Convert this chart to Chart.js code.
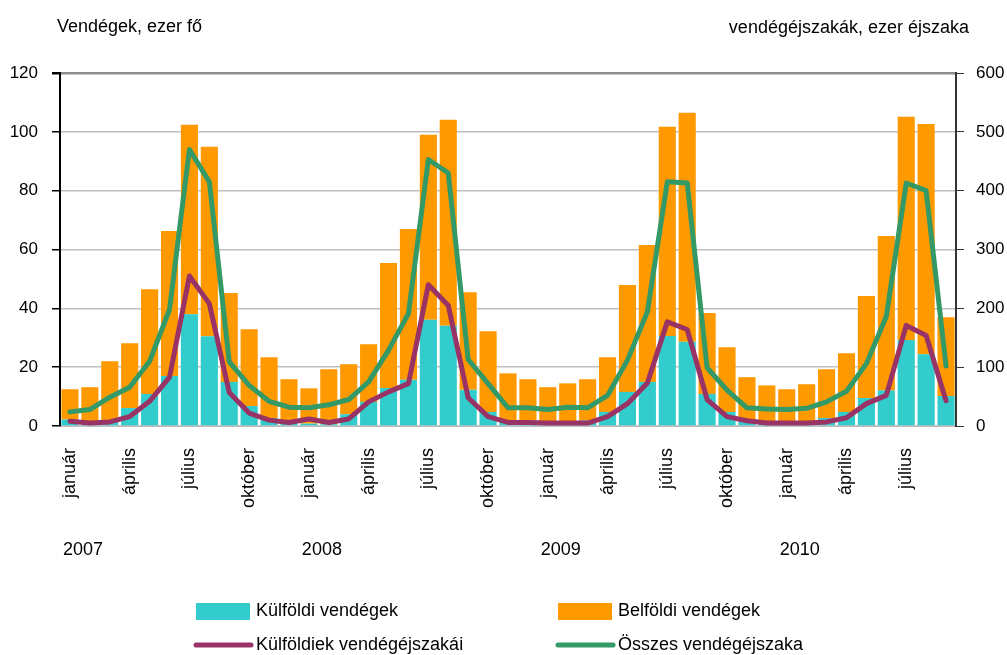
<!DOCTYPE html>
<html>
<head>
<meta charset="utf-8">
<script src="https://cdn.jsdelivr.net/npm/chart.js@4.4.1/dist/chart.umd.min.js"></script>
<style>
  html, body { margin: 0; padding: 0; background: #fff; }
  #chart { display: block; }
</style>
</head>
<body>
<canvas id="chart" width="1007" height="655"></canvas>
<script>
// categories
var years = ["2007", "2008", "2009", "2010"];
var monthNames = ["január", "február", "március", "április", "május", "június",
  "július", "augusztus", "szeptember", "október", "november", "december"];
var shownMonths = ["január", "április", "július", "október"];
var monthCount = 45; // 2007 jan - 2010 szept

// bars, ezer fő (left axis)
var kulfoldiVendegek = [
  2.2, 1.5, 2.0, 6.1, 10.9, 17.0, 38.0, 30.5, 15.0, 6.8, 2.7, 1.5,
  0.8, 0.6, 4.0, 8.2, 12.9, 15.7, 36.1, 34.1, 12.3, 4.8, 1.9, 1.9,
  1.7, 1.7, 1.9, 4.8, 11.6, 15.0, 30.6, 28.6, 10.9, 4.8, 1.7, 1.4,
  0.8, 0.8, 2.7, 4.8, 9.5, 12.1, 29.2, 24.4, 10.2
];
var belfoldiVendegek = [
  10.3, 11.7, 20.0, 22.0, 35.6, 49.3, 64.4, 64.4, 30.2, 26.1, 20.7, 14.4,
  12.0, 18.7, 17.0, 19.6, 42.5, 51.3, 62.9, 70.0, 33.2, 27.4, 16.0, 14.0,
  11.5, 12.8, 14.0, 18.6, 36.3, 46.5, 71.1, 77.9, 27.5, 22.0, 14.9, 12.4,
  11.7, 13.4, 16.6, 19.9, 34.7, 52.5, 75.9, 78.3, 26.8
];

// lines, ezer éjszaka (right axis)
var kulfoldiekEjszakai = [
  8, 5, 7, 16, 42, 83, 255, 208, 57, 22, 10, 6,
  12, 6, 12, 41, 58, 72, 240, 205, 48, 16, 6, 6,
  5, 5, 5, 16, 38, 73, 177, 164, 45, 16, 9, 5,
  5, 5, 7, 14, 38, 52, 171, 154, 43
];
var osszesEjszaka = [
  24, 28, 49, 66, 110, 198, 470, 415, 109, 69, 42, 32,
  31, 36, 45, 75, 129, 191, 453, 430, 113, 72, 31, 31,
  28, 32, 31, 52, 112, 194, 415, 413, 99, 61, 31, 29,
  28, 30, 41, 59, 106, 186, 413, 400, 102
];

var leftTicks = [0, 20, 40, 60, 80, 100, 120];
var rightTicks = [0, 100, 200, 300, 400, 500, 600];

var fontFamily = "'Liberation Sans', Arial, sans-serif";

// build month labels
var labels = [];
for (var i = 0; i < monthCount; i++) {
  labels.push(monthNames[i % 12]);
}

// titles, year row and legend drawn on the canvas
var extraText = {
  id: "extraText",
  afterDraw: function(chart) {
    var ctx = chart.ctx;
    var xs = chart.scales.x;
    ctx.save();
    ctx.fillStyle = "#000";
    ctx.font = "18px " + fontFamily;
    ctx.textBaseline = "alphabetic";
    ctx.textAlign = "left";
    ctx.fillText("Vendégek, ezer fő", 57, 32);
    ctx.textAlign = "right";
    ctx.fillText("vendégéjszakák, ezer éjszaka", 969, 33);

    // years under january
    ctx.textAlign = "center";
    ctx.font = "18px " + fontFamily;
    for (var y = 0; y < years.length; y++) {
      var px = xs.getPixelForValue(y * 12);
      ctx.fillText(years[y], px + 13, 555);
    }

    // legend
    var ds = chart.data.datasets;
    var items = [
      { d: ds[0], x: 196, y: 611, box: true },
      { d: ds[1], x: 558, y: 611, box: true },
      { d: ds[2], x: 196, y: 645, box: false },
      { d: ds[3], x: 558, y: 645, box: false }
    ];
    ctx.font = "18px " + fontFamily;
    ctx.textAlign = "left";
    ctx.textBaseline = "middle";
    items.forEach(function(it) {
      if (it.box) {
        ctx.fillStyle = it.d.backgroundColor;
        ctx.fillRect(it.x, it.y - 8, 54, 17);
      } else {
        ctx.strokeStyle = it.d.borderColor;
        ctx.lineWidth = 5;
        ctx.lineCap = "round";
        ctx.beginPath();
        ctx.moveTo(it.x, it.y);
        ctx.lineTo(it.x + 55, it.y);
        ctx.stroke();
      }
      ctx.fillStyle = "#000";
      ctx.fillText(it.d.label, it.x + 60, it.y);
    });
    ctx.restore();
  }
};

var ctx = document.getElementById("chart").getContext("2d");
var chart = new Chart(ctx, {
  type: "bar",
  data: {
    labels: labels,
    datasets: [
      {
        label: "Külföldi vendégek",
        data: kulfoldiVendegek,
        backgroundColor: "#33CCCC",
        yAxisID: "y",
        stack: "vendeg",
        order: 2
      },
      {
        label: "Belföldi vendégek",
        data: belfoldiVendegek,
        backgroundColor: "#FF9900",
        yAxisID: "y",
        stack: "vendeg",
        order: 2
      },
      {
        type: "line",
        label: "Külföldiek vendégéjszakái",
        data: kulfoldiekEjszakai,
        borderColor: "#993366",
        backgroundColor: "#993366",
        borderWidth: 5,
        pointRadius: 0,
        tension: 0,
        borderCapStyle: "round",
        borderJoinStyle: "round",
        yAxisID: "y1",
        stack: "kulf",
        order: 0
      },
      {
        type: "line",
        label: "Összes vendégéjszaka",
        data: osszesEjszaka,
        borderColor: "#339966",
        backgroundColor: "#339966",
        borderWidth: 5,
        pointRadius: 0,
        tension: 0,
        borderCapStyle: "round",
        borderJoinStyle: "round",
        yAxisID: "y1",
        stack: "ossz",
        order: 1
      }
    ]
  },
  options: {
    responsive: false,
    animation: false,
    devicePixelRatio: 1,
    layout: { padding: { top: 73, left: 0, right: 0, bottom: 0 } },
    datasets: {
      bar: { categoryPercentage: 0.86, barPercentage: 1.0 }
    },
    plugins: {
      legend: { display: false },
      tooltip: { enabled: false },
      title: { display: false }
    },
    scales: {
      x: {
        stacked: true,
        afterFit: function(s) { s.height = 229; },
        grid: { drawOnChartArea: false, drawTicks: false },
        border: { display: true, color: "#bfbfbf", width: 2 },
        ticks: {
          autoSkip: false,
          maxRotation: 90,
          minRotation: 90,
          padding: 22,
          color: "#000",
          font: { family: fontFamily, size: 18 },
          callback: function(value) {
            var name = labels[value];
            return shownMonths.indexOf(name) >= 0 ? name : "";
          }
        }
      },
      y: {
        position: "left",
        stacked: true,
        min: 0,
        max: 120,
        afterFit: function(s) { s.width = 60; },
        afterBuildTicks: function(s) {
          s.ticks = leftTicks.map(function(v) { return { value: v }; });
        },
        grid: {
          color: function(c) { return c.tick && c.tick.value === 120 ? "#8c8c8c" : "#c0c0c0"; },
          lineWidth: function(c) { return c.tick && c.tick.value === 120 ? 2.5 : 1.5; },
          tickColor: "#000",
          tickLength: 8
        },
        border: { display: true, color: "#000", width: 2 },
        ticks: {
          padding: 14,
          color: "#000",
          font: { family: fontFamily, size: 17 }
        }
      },
      y1: {
        position: "right",
        min: 0,
        max: 600,
        afterFit: function(s) { s.width = 51; },
        afterBuildTicks: function(s) {
          s.ticks = rightTicks.map(function(v) { return { value: v }; });
        },
        grid: {
          drawOnChartArea: false,
          tickColor: "#333",
          tickLength: 8
        },
        border: { display: true, color: "#333", width: 2 },
        ticks: {
          padding: 12,
          color: "#000",
          font: { family: fontFamily, size: 17 }
        }
      }
    }
  },
  plugins: [extraText]
});
</script>
</body>
</html>
